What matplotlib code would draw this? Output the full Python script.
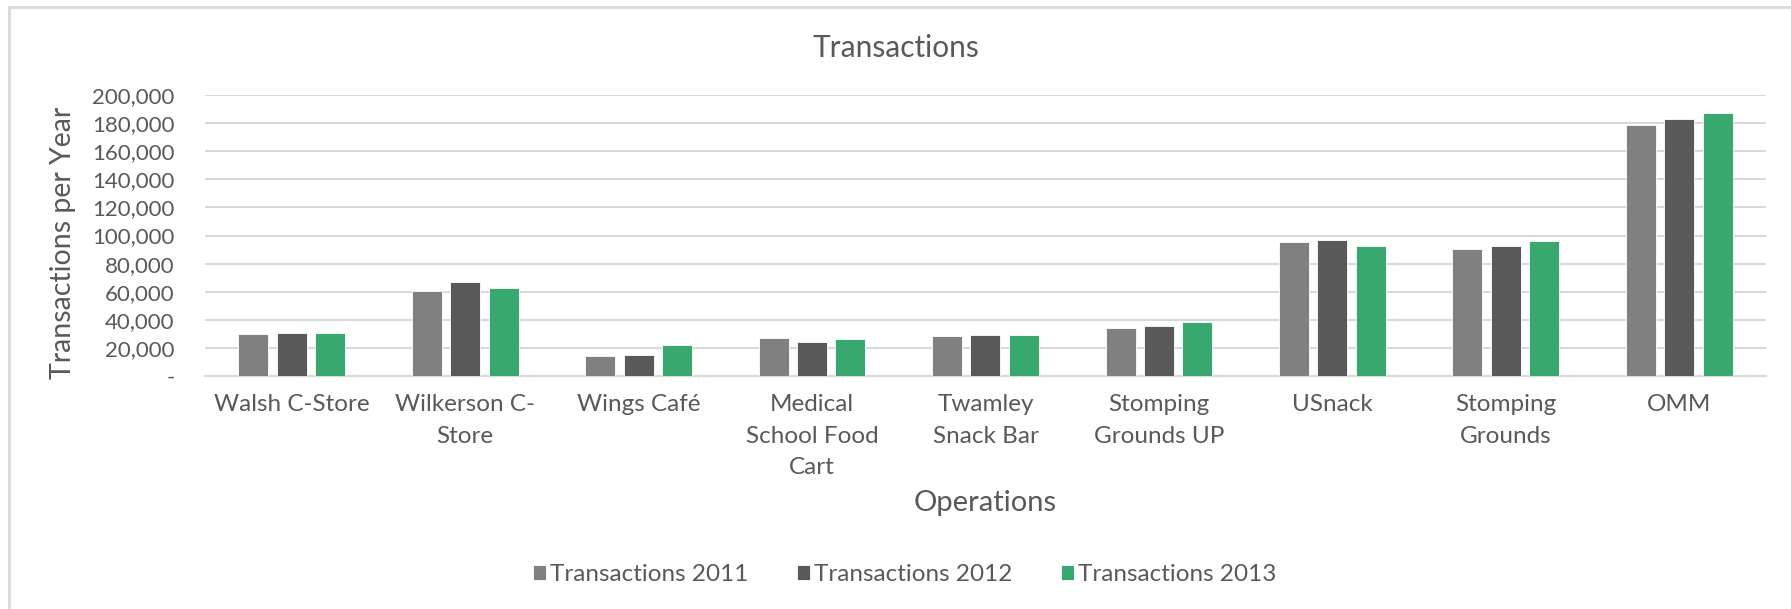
import matplotlib
matplotlib.use("Agg")
import matplotlib.pyplot as plt
import numpy as np
from matplotlib.ticker import FuncFormatter
from matplotlib.lines import Line2D

plt.rcParams['font.family'] = ['Lato', 'DejaVu Sans']

# ---------------------------------------------------------------------------
# Data
# ---------------------------------------------------------------------------
operations = ["Walsh C-Store", "Wilkerson C-\nStore", "Wings Café",
              "Medical\nSchool Food\nCart", "Twamley\nSnack Bar",
              "Stomping\nGrounds UP", "USnack", "Stomping\nGrounds", "OMM"]
tx_2011 = [29800, 60400, 14300, 27000, 28200, 34100, 95200, 90500, 178800]
tx_2012 = [30300, 66800, 15300, 23900, 28900, 35300, 96700, 92600, 183100]
tx_2013 = [30300, 62300, 22000, 26000, 28900, 38700, 92800, 96200, 186900]
series_labels = ["Transactions 2011", "Transactions 2012", "Transactions 2013"]
series_colors = ["#808080", "#595959", "#38A86F"]
y_ticks = list(range(0, 200001, 20000))

TEXT = "#595959"
GRID = "#D9D9D9"

fig = plt.figure(figsize=(17.91, 6.09), dpi=100)
ax = fig.add_axes([0.1145, 0.3826, 0.986 - 0.1145, 0.844 - 0.3826])

x = np.arange(len(operations))
step = 0.221
width = 0.173
for i, (vals, lab, col) in enumerate(zip([tx_2011, tx_2012, tx_2013],
                                         series_labels, series_colors)):
    ax.bar(x + (i - 1) * step, vals, width=width, color=col, label=lab,
           edgecolor="white", linewidth=0.6, zorder=3)

ax.set_xlim(-0.5, len(operations) - 0.5)
ax.set_ylim(0, 200000)
ax.set_yticks(y_ticks)
ax.yaxis.set_major_formatter(FuncFormatter(lambda v, p: "-" if v == 0 else f"{int(v):,}"))
ax.set_xticks(x)
ax.set_xticklabels(operations, linespacing=1.62, fontsize=17.5)

ax.grid(axis='y', color=GRID, linewidth=1.5, zorder=0)
for s in ("top", "right", "left"):
    ax.spines[s].set_visible(False)
ax.spines["bottom"].set_color(GRID)
ax.spines["bottom"].set_linewidth(1.5)
ax.tick_params(axis='both', length=0, colors=TEXT)
ax.tick_params(axis='y', pad=22, labelsize=16)
ax.tick_params(axis='x', pad=13)

fig.text(0.5, 0.921, "Transactions", ha="center", va="center",
         fontsize=21.5, color=TEXT)
fig.text(0.035, 0.601, "Transactions per Year", rotation=90, ha="center",
         va="center", fontsize=20.5, color=TEXT)
ax_mid = (0.1145 + 0.986) / 2
fig.text(ax_mid, 0.174, "Operations", ha="center", va="center",
         fontsize=21, color=TEXT)

leg = fig.legend(loc="center", bbox_to_anchor=(0.505, 0.0566), ncol=3,
                 frameon=False, fontsize=17.5, handlelength=0.55,
                 handleheight=0.55, handletextpad=0.15, columnspacing=2.0,
                 labelcolor=TEXT)

# chart frame (only left and top edges visible in the crop)
fig.add_artist(Line2D([0.005, 0.005], [0, 0.989], transform=fig.transFigure,
                      color=GRID, linewidth=2))
fig.add_artist(Line2D([0.005, 1], [0.989, 0.989], transform=fig.transFigure,
                      color=GRID, linewidth=2))

fig.savefig("out.png", dpi=100, facecolor="white")
